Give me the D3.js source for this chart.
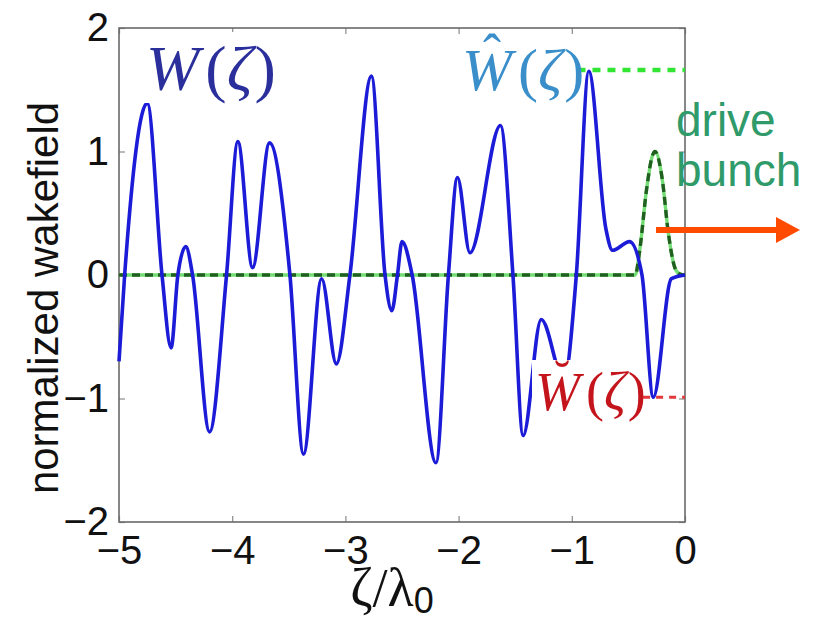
<!DOCTYPE html>
<html>
<head>
<meta charset="utf-8">
<script src="https://cdn.jsdelivr.net/npm/d3@7"></script>
<style>
  body { margin: 0; background: #fff; }
  svg { display: block; }
</style>
</head>
<body>
<div id="chart"></div>
<script>
// wakefield W(zeta) (extrema + zero crossings)
const wakeX = [-5.00, -4.95, -4.75, -4.62, -4.54, -4.48, -4.41, -4.35, -4.20, -4.05,
  -3.95, -3.82, -3.67, -3.49, -3.37, -3.21, -3.08, -2.96, -2.77, -2.65,
  -2.59, -2.54, -2.50, -2.41, -2.20, -2.09, -2.01, -1.90, -1.63, -1.52,
  -1.43, -1.27, -1.07, -0.96, -0.85, -0.70, -0.64, -0.49, -0.38, -0.28,
  -0.12, 0.00]
const wakeY = [-0.70, 0.00, 1.39, 0.00, -0.59, 0.00, 0.23, 0.00, -1.27, 0.00,
  1.08, 0.06, 1.07, 0.00, -1.45, -0.03, -0.72, 0.00, 1.61, 0.00,
  -0.29, 0.00, 0.27, 0.00, -1.52, 0.00, 0.79, 0.18, 1.21, 0.00,
  -1.30, -0.36, -0.85, 0.00, 1.65, 0.38, 0.20, 0.27, 0.00, -0.99,
  -0.03, 0.00]

// drive bunch profile (green dashed)
const bunchX = [-5.00, -0.44, -0.40, -0.34, -0.29, -0.265, -0.20, -0.15, -0.09, -0.05, 0.00]
const bunchY = [0.00, 0.00, 0.20, 0.69, 0.96, 1.00, 0.77, 0.36, 0.06, 0.01, 0.00]

// max / min markers
const hatX = [-0.95, 0.00]
const hatY = 1.66
const breveX = [-0.37, 0.00]
const breveY = -0.99

const xTicks = [-5, -4, -3, -2, -1, 0]
const yTicks = [-2, -1, 0, 1, 2]

const width = 813
const height = 625
const margin = {left: 119, top: 28, right: 128, bottom: 103}
const plotW = width - margin.left - margin.right
const plotH = height - margin.top - margin.bottom

const svg = d3.select('#chart').append('svg')
  .attr('width', width)
  .attr('height', height)

const x = d3.scaleLinear().domain([-5, 0]).range([margin.left, margin.left + plotW])
const y = d3.scaleLinear().domain([-2, 2]).range([margin.top + plotH, margin.top])

const tickColor = '#8a8a8a'
const fmt = d3.format('d')

// inward ticks on all sides
const axes = [
  {axis: d3.axisBottom(x), t: `translate(0,${margin.top + plotH})`, labels: true},
  {axis: d3.axisTop(x), t: `translate(0,${margin.top})`, labels: false},
  {axis: d3.axisLeft(y), t: `translate(${margin.left},0)`, labels: true},
  {axis: d3.axisRight(y), t: `translate(${margin.left + plotW},0)`, labels: false}
]
axes.forEach((a, i) => {
  const ticks = i < 2 ? xTicks : yTicks
  const g = svg.append('g')
    .attr('transform', a.t)
    .call(a.axis.tickValues(ticks).tickSize(-6)
      .tickFormat(a.labels ? fmt : '').tickPadding(i === 0 ? 14 : 10))
  g.select('.domain').remove()
  g.selectAll('.tick line').attr('stroke', tickColor).attr('stroke-width', 1.2)
  g.selectAll('.tick text')
    .attr('font-family', 'Liberation Sans, Arial, sans-serif')
    .attr('font-size', 40)
    .attr('fill', '#111')
})

// frame
svg.append('rect')
  .attr('x', margin.left)
  .attr('y', margin.top)
  .attr('width', plotW)
  .attr('height', plotH)
  .attr('fill', 'none')
  .attr('stroke', '#6a6a6a')
  .attr('stroke-width', 1.6)

const line = d3.line()
  .x(d => x(d[0]))
  .y(d => y(d[1]))
  .curve(d3.curveMonotoneX)

const bunchData = bunchX.map((v, i) => [v, bunchY[i]])
const wakeData = wakeX.map((v, i) => [v, wakeY[i]])

// bunch / zero line: light green under dark green dashes
svg.append('path')
  .datum(bunchData)
  .attr('d', line)
  .attr('fill', 'none')
  .attr('stroke', '#74dc74')
  .attr('stroke-width', 3.4)
svg.append('path')
  .datum(bunchData)
  .attr('d', line)
  .attr('fill', 'none')
  .attr('stroke', '#205f20')
  .attr('stroke-width', 3.4)
  .attr('stroke-dasharray', '8,5')

// max and min dashed markers
svg.append('path')
  .datum(hatX.map(v => [v, hatY]))
  .attr('d', d3.line().x(d => x(d[0])).y(d => y(d[1])))
  .attr('stroke', '#33e533')
  .attr('stroke-width', 4.5)
  .attr('stroke-dasharray', '8,7')
svg.append('path')
  .datum(breveX.map(v => [v, breveY]))
  .attr('d', d3.line().x(d => x(d[0])).y(d => y(d[1])))
  .attr('stroke', '#e23a3a')
  .attr('stroke-width', 3)
  .attr('stroke-dasharray', '7,6')

// wakefield
svg.append('path')
  .datum(wakeData)
  .attr('d', line)
  .attr('fill', 'none')
  .attr('stroke', '#1b1bd8')
  .attr('stroke-width', 3.6)
  .attr('stroke-linejoin', 'round')

// math labels with white boxes
function mathLabel (px, py, accent, size, color, box) {
  const g = svg.append('g')
  g.append('rect').attr('fill', '#fff')
    .attr('x', box[0]).attr('y', box[1])
    .attr('width', box[2] - box[0]).attr('height', box[3] - box[1])
  const t = g.append('text')
    .attr('x', px)
    .attr('y', py)
    .attr('font-family', 'Liberation Serif, Times New Roman, serif')
    .attr('font-size', size)
    .attr('fill', color)
  t.append('tspan').attr('font-style', 'italic').text('W')
  t.append('tspan').attr('dx', 6).text('(')
  t.append('tspan').attr('font-style', 'italic').text('ζ')
  t.append('tspan').attr('dx', 2).text(')')
  if (accent) {
    // spacing accent glyph sits near the x-height, lift it over the W
    g.append('text')
      .attr('x', px + size * 0.5)
      .attr('y', py - size * 0.3)
      .attr('text-anchor', 'middle')
      .attr('font-family', 'Liberation Serif, Times New Roman, serif')
      .attr('font-size', size * 0.9)
      .attr('fill', color)
      .text(accent)
  }
  return g
}
mathLabel(146, 90, '', 64, '#2a2f9c', [140, 32, 276, 103])
mathLabel(462, 90, '\u02C6', 60, '#3a8fca', [455, 36, 578, 100])
mathLabel(535, 410, '\u02D8', 54, '#c4141c', [532, 360, 640, 418])

// x label
const xl = svg.append('text')
  .attr('x', 392)
  .attr('y', 606)
  .attr('text-anchor', 'middle')
  .attr('font-family', 'Liberation Serif, Times New Roman, serif')
  .attr('font-size', 54)
  .attr('fill', '#111')
xl.append('tspan').text('ζ/λ')
xl.append('tspan')
  .attr('font-family', 'Liberation Sans, Arial, sans-serif')
  .attr('font-size', 36)
  .attr('dy', 7)
  .text('0')

// y label
svg.append('text')
  .attr('transform', 'translate(58,298) rotate(-90)')
  .attr('text-anchor', 'middle')
  .attr('font-family', 'Liberation Sans, Arial, sans-serif')
  .attr('font-size', 42)
  .attr('fill', '#111')
  .text('normalized wakefield')

// drive bunch annotation
const db = svg.append('text')
  .attr('font-family', 'Liberation Sans, Arial, sans-serif')
  .attr('font-size', 46)
  .attr('fill', '#2f9a6a')
db.append('tspan').attr('x', 676).attr('y', 136).text('drive')
db.append('tspan').attr('x', 676).attr('y', 186).text('bunch')

svg.append('line')
  .attr('x1', 656).attr('y1', 230)
  .attr('x2', 780).attr('y2', 230)
  .attr('stroke', '#ff4b00')
  .attr('stroke-width', 6)
svg.append('path')
  .attr('d', 'M776,217 L800,230 L776,243 Z')
  .attr('fill', '#ff4b00')
</script>
</body>
</html>
